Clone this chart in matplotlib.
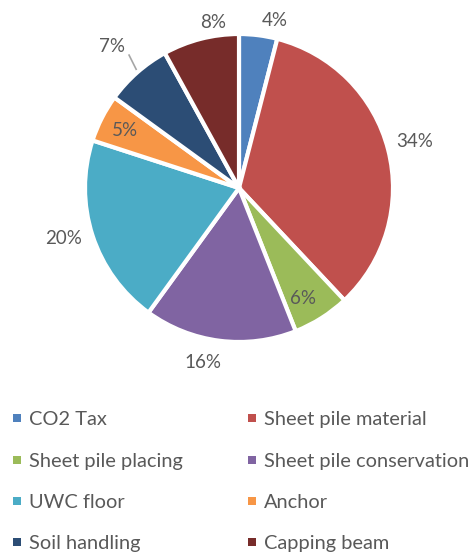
import matplotlib
matplotlib.use("Agg")
import matplotlib.pyplot as plt
from matplotlib.patches import Rectangle
import numpy as np

categories = ["CO2 Tax", "Sheet pile material", "Sheet pile placing", "Sheet pile conservation",
              "UWC floor", "Anchor", "Soil handling", "Capping beam"]
values = [4, 34, 6, 16, 20, 5, 7, 8]
pct_labels = ["4%", "34%", "6%", "16%", "20%", "5%", "7%", "8%"]
colors = ["#4F81BD", "#C0504D", "#9BBB59", "#8064A2", "#4BACC6", "#F79646", "#2C4D75", "#772C2A"]

# label layout (radius in pie radii, angular offset from wedge middle in degrees)
label_r = [1.12, 1.18, 0.825, 1.15, 1.18, 0.835, 1.24, 1.10]
label_off = [-4.9, 0.9, -1.9, -4.4, -2.5, -0.1, 0.3, -5.6]

W, H = 473, 557
fig = plt.figure(figsize=(W / 100, H / 100), dpi=100)
plt.rcParams['font.family'] = ['Lato', 'DejaVu Sans']

cx, cy, R = 239, 188, 154
k = 1.4
ax = fig.add_axes([(cx - R * k) / W, 1 - (cy + R * k) / H, 2 * R * k / W, 2 * R * k / H])

wedges, _ = ax.pie(values, colors=colors, startangle=90, counterclock=False, radius=1.0,
                   wedgeprops=dict(edgecolor="white", linewidth=3))
ax.set_xlim(-k, k)
ax.set_ylim(-k, k)
ax.set_aspect("equal")
ax.axis("off")
for w in wedges:
    w.set_clip_on(False)

total = sum(values)
cum = 0
txtcol = "#595959"
for v, lab, d, off in zip(values, pct_labels, label_r, label_off):
    mid = 90 - (cum + v / 2) / total * 360
    cum += v
    a = np.deg2rad(mid + off)
    ax.text(d * np.cos(a), d * np.sin(a), lab, ha="center", va="center_baseline",
            fontsize=13.5, color=txtcol, clip_on=False)
    if lab == "7%":
        a1 = np.deg2rad(mid - 0.5)
        a2 = np.deg2rad(mid - 1.8)
        ax.plot([1.02 * np.cos(a1), 1.12 * np.cos(a2)], [1.02 * np.sin(a1), 1.12 * np.sin(a2)],
                color="#A6A6A6", lw=1.2, clip_on=False)

# legend (two columns)
col_x = [13, 248]
row_y = [418, 460, 501, 542]
for i, (cat, col) in enumerate(zip(categories, colors)):
    x = col_x[i % 2]
    y = row_y[i // 2]
    fig.patches.append(Rectangle((x / W, 1 - (y + 4) / H), 8 / W, 8 / H, transform=fig.transFigure,
                                 facecolor=col, edgecolor="none"))
    fig.text((x + 16) / W, 1 - y / H, cat, ha="left", va="center_baseline", fontsize=14.4, color=txtcol)

fig.savefig("out.png", dpi=100, facecolor="white")
